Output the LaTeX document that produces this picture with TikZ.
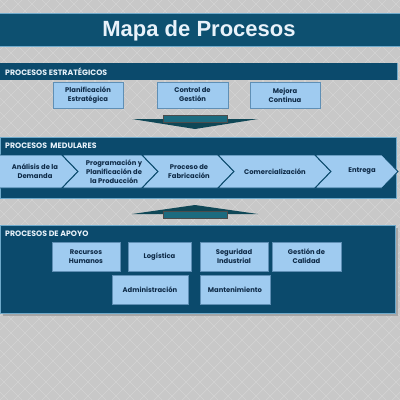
\documentclass[tikz,border=0pt]{standalone}
\usepackage{fontspec}
\setmainfont{Poppins}
\newfontfamily\titlefont{Liberation Sans}
\definecolor{bg}{HTML}{C8C8C8}
\definecolor{bgline}{HTML}{D3D3D3}
\definecolor{navy}{HTML}{0B4A6C}
\definecolor{titlebar}{HTML}{0D5070}
\definecolor{edge}{HTML}{6FAACB}
\definecolor{boxfill}{HTML}{9FCBF0}
\definecolor{boxedge}{HTML}{5F8FB5}
\definecolor{boxtext}{HTML}{0E2A46}
\definecolor{stem}{HTML}{1C6B7F}
\definecolor{head}{HTML}{0F4756}
\definecolor{hdrtext}{HTML}{E8F2FA}
\tikzset{
  pbox/.style={fill=boxfill, draw=boxedge, line width=0.4pt, inner sep=1pt,
    align=center, font=\fontsize{6.8}{9}\selectfont\bfseries, text=boxtext},
  chev/.style={fill=boxfill, draw=navy, line width=0.9pt, line join=miter},
  ctext/.style={align=center, font=\fontsize{6.8}{9.3}\selectfont\bfseries, text=boxtext},
  hdr/.style={anchor=west, font=\fontsize{7.8}{9}\selectfont\bfseries, text=hdrtext, inner sep=0pt},
  panel/.style={fill=navy, draw=edge, line width=0.6pt}
}
\begin{document}
\begin{tikzpicture}[x=1pt,y=-1pt]
\useasboundingbox (0,0) rectangle (400,400);
% background
\fill[bg] (0,0) rectangle (400,400);
\begin{scope}
\clip (0,0) rectangle (400,400);
\foreach \i in {-420,-406,...,420} {
  \draw[bgline, line width=0.7pt] (\i,0) -- ++(400,400);
  \draw[bgline, line width=0.7pt] (\i,400) -- ++(400,-400);
}
\end{scope}
% title bar
\fill[titlebar] (0,13) rectangle (400,47);
\draw[edge, line width=1.2pt] (0,13.5) -- (400,13.5);
\draw[edge, line width=1.2pt] (0,46.5) -- (400,46.5);
\node[font=\titlefont\bfseries\fontsize{22}{24}\selectfont, text=hdrtext] (title) at (199,31) {Mapa de Procesos};

% strategic
\fill[navy] (0,63) rectangle (397,80);
\draw[edge, line width=0.5pt] (397,63) -- (397,80);
\node[hdr] (hs) at (5,71.5) {PROCESOS ESTRATÉGICOS};
\node[pbox, minimum width=70pt, minimum height=26pt] (pe) at (88,95) {Planificación\\Estratégica};
\node[pbox, minimum width=71pt, minimum height=26pt] (cg) at (192.5,95) {Control de\\Gestión};
\node[pbox, minimum width=70pt, minimum height=26pt] (mc) at (285,95) {Mejora\\Continua};

% down arrow
\fill[head] (132,119) -- (258,119) -- (195,129) -- cycle;
\fill[stem] (163,115) rectangle (227,122.5);
\draw[black!70, line width=0.4pt] (163,115) rectangle (227,122.5);

% medular
\draw[panel] (0,137) rectangle (396,198);
\node[hdr] (hm) at (5,145.5) {PROCESOS \ MEDULARES};
\draw[chev] (-2,155) -- (62,155) -- (78,171.5) -- (62,188) -- (-2,188) -- cycle;
\draw[chev] (62,155) -- (142,155) -- (158,171.5) -- (142,188) -- (62,188) -- (78,171.5) -- cycle;
\draw[chev] (142,155) -- (218,155) -- (234,171.5) -- (218,188) -- (142,188) -- (158,171.5) -- cycle;
\draw[chev] (218,155) -- (315,155) -- (331,171.5) -- (315,188) -- (218,188) -- (234,171.5) -- cycle;
\draw[chev] (315,155) -- (382,155) -- (398,171.5) -- (382,188) -- (315,188) -- (331,171.5) -- cycle;
\node[ctext] (c1) at (35,171.5) {Análisis de la\\Demanda};
\node[ctext] (c2) at (114,171.5) {Programación y\\Planificación de\\la Producción};
\node[ctext] (c3) at (189,171.5) {Proceso de\\Fabricación};
\node[ctext] (c4) at (275,171.5) {Comercialización};
\node[ctext] (c5) at (362,171.5) {Entrega};

% up arrow
\fill[head] (132,214) -- (258,214) -- (195,205) -- cycle;
\fill[stem] (163,211) rectangle (227,218.5);
\draw[black!70, line width=0.4pt] (163,211) rectangle (227,218.5);

% support
\fill[black!35] (3,228) rectangle (398,316);
\draw[panel] (0,225) rectangle (395,313);
\node[hdr] (ha) at (5,234) {PROCESOS DE APOYO};
\node[pbox, minimum width=68pt, minimum height=29pt] (rh) at (86,256.5) {Recursos\\Humanos};
\node[pbox, minimum width=63pt, minimum height=29pt] (lo) at (159.5,256.5) {Logística};
\node[pbox, minimum width=68pt, minimum height=29pt] (si) at (234,256.5) {Seguridad\\Industrial};
\node[pbox, minimum width=69pt, minimum height=29pt] (gc) at (306.5,256.5) {Gestión de\\Calidad};
\node[pbox, minimum width=76pt, minimum height=29pt] (ad) at (150,289.5) {Administración};
\node[pbox, minimum width=70pt, minimum height=29pt] (ma) at (235,289.5) {Mantenimiento};
\end{tikzpicture}
\end{document}
